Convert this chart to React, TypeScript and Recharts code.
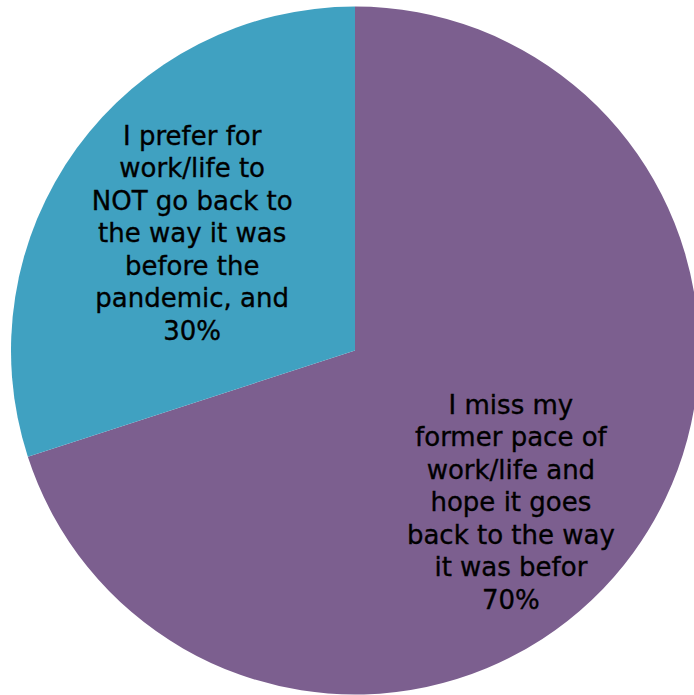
import React from "react";
import { PieChart, Pie, Cell } from "recharts";

const categories = [
  "I miss my former pace of work/life and hope it goes back to the way it was befor",
  "I prefer for work/life to NOT go back to the way it was before the pandemic, and",
];
const values = [70, 30];
const percentLabels = ["70%", "30%"];
const labelLines = [
  ["I miss my", "former pace of", "work/life and", "hope it goes", "back to the way", "it was befor"],
  ["I prefer for", "work/life to", "NOT go back to", "the way it was", "before the", "pandemic, and"],
];
const colors = ["#7C5F8F", "#40A1C1"];

const data = categories.map((name, i) => ({ name, value: values[i] }));

const RADIAN = Math.PI / 180;
const labelRadiusFactor = [0.63, 0.585];
const labelAngleShift = [-8, 0];
const LINE_H = 32.5;

const renderLabel = (props: any) => {
  const { cx, cy, midAngle, outerRadius, index } = props;
  const r = outerRadius * labelRadiusFactor[index];
  const a = (midAngle + labelAngleShift[index]) * RADIAN;
  const x = cx + r * Math.cos(a);
  const y = cy - r * Math.sin(a);
  const lines = [...labelLines[index], percentLabels[index]];
  const total = lines.length;
  const firstBaseline = y - ((total - 1) * LINE_H) / 2 + 10;
  return (
    <text
      x={x}
      y={firstBaseline}
      textAnchor="middle"
      fill="#000"
      stroke="#000"
      strokeWidth={0.35}
      fontFamily="DejaVu Sans"
      fontSize={26}
    >
      {lines.map((l, i) => (
        <tspan key={i} x={x} y={firstBaseline + i * LINE_H}>
          {l}
        </tspan>
      ))}
    </text>
  );
};

export default function App() {
  return (
    <div style={{ position: "absolute", left: 0, top: 0, width: 694, height: 695, background: "#fff", overflow: "hidden" }}>
      <PieChart width={694} height={695} margin={{ top: 0, right: 0, bottom: 0, left: 0 }}>
        <Pie
          data={data}
          dataKey="value"
          nameKey="name"
          cx={355}
          cy={350.5}
          outerRadius={344}
          startAngle={90}
          endAngle={-270}
          stroke="none"
          isAnimationActive={false}
          labelLine={false}
          label={renderLabel}
        >
          {data.map((d, i) => (
            <Cell key={d.name} fill={colors[i]} />
          ))}
        </Pie>
      </PieChart>
    </div>
  );
}
